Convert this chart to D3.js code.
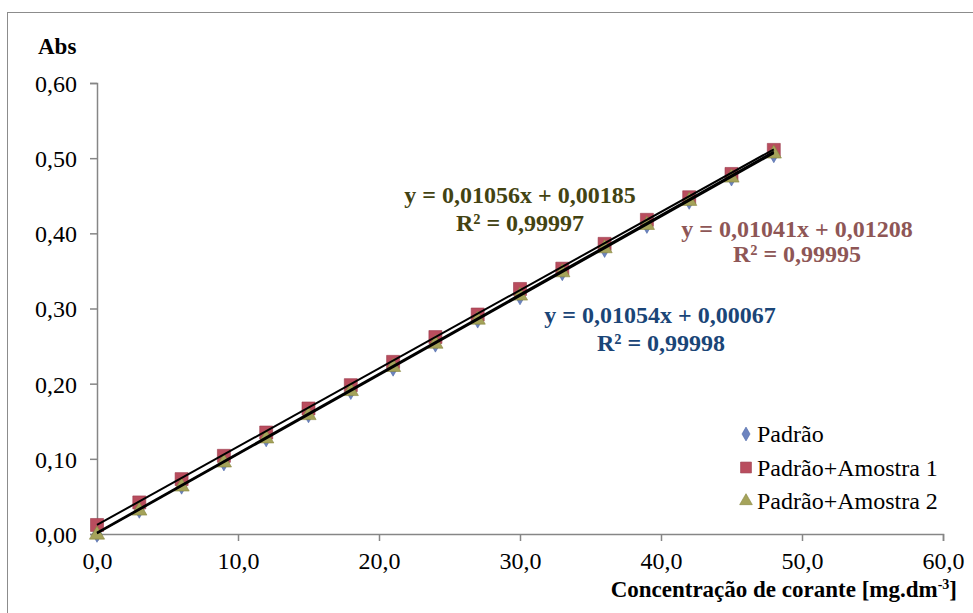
<!DOCTYPE html>
<html>
<head>
<meta charset="utf-8">
<script src="https://cdn.jsdelivr.net/npm/d3@7"></script>
<style>
  body { margin: 0; background: #fff; }
  svg text { font-family: "Liberation Serif", "Times New Roman", serif; }
</style>
</head>
<body>
<svg id="chart" width="973" height="613"></svg>
<script>
// concentration (x) and absorbance readings
var conc = [0, 3, 6, 9, 12, 15, 18, 21, 24, 27, 30, 33, 36, 39, 42, 45, 48];
var padrao = [0.000, 0.032, 0.064, 0.095, 0.127, 0.159, 0.190, 0.221, 0.253, 0.285, 0.316, 0.348, 0.379, 0.411, 0.443, 0.474, 0.505];
var amostra1 = [0.012, 0.042, 0.073, 0.104, 0.135, 0.167, 0.198, 0.229, 0.262, 0.292, 0.326, 0.353, 0.386, 0.418, 0.448, 0.479, 0.511];
var amostra2 = [0.001, 0.033, 0.065, 0.097, 0.129, 0.160, 0.192, 0.224, 0.255, 0.287, 0.319, 0.350, 0.382, 0.413, 0.445, 0.476, 0.508];

var seriesNames = ["Padrão", "Padrão+Amostra 1", "Padrão+Amostra 2"];
// trendline fits as shown on the chart
var slopes = [0.01054, 0.01041, 0.01056];
var intercepts = [0.00067, 0.01208, 0.00185];
var eqLabels = ["y = 0,01054x + 0,00067", "y = 0,01041x + 0,01208", "y = 0,01056x + 0,00185"];
var r2Labels = ["R² = 0,99998", "R² = 0,99995", "R² = 0,99997"];

var xTicks = [0, 10, 20, 30, 40, 50, 60];
var yTicks = [0, 0.1, 0.2, 0.3, 0.4, 0.5, 0.6];

var svg = d3.select("#chart");
var axisColor = "#868686";
var serif = "'Liberation Serif', 'Times New Roman', serif";

// outer frame (only top and left edges fall inside the picture)
svg.append("rect")
    .attr("x", 7.5).attr("y", 12.5)
    .attr("width", 990).attr("height", 620)
    .attr("fill", "none")
    .attr("stroke", "#8c8c8c");

var x = d3.scaleLinear().domain([0, 60]).range([97, 943]);
var y = d3.scaleLinear().domain([0, 0.6]).range([534, 83]);

var fmt = function (v, d) { return v.toFixed(d).replace(".", ","); };

// y axis
var yAxis = svg.append("g")
    .attr("transform", "translate(97,0)")
    .call(d3.axisLeft(y).tickValues(yTicks).tickSize(7).tickPadding(13)
        .tickFormat(function (d) { return fmt(d, 2); }));

// x axis
var xAxis = svg.append("g")
    .attr("transform", "translate(0,534)")
    .call(d3.axisBottom(x).tickValues(xTicks).tickSize(7).tickPadding(11)
        .tickFormat(function (d) { return fmt(d, 1); }));

[xAxis, yAxis].forEach(function (a) {
    a.attr("font-family", null).attr("font-size", null);
    a.select(".domain").attr("stroke", axisColor).attr("stroke-width", 1.5);
    a.selectAll(".tick line").attr("stroke", axisColor).attr("stroke-width", 1.5);
    a.selectAll(".tick text")
        .attr("fill", "#000")
        .style("font-family", serif)
        .style("font-size", "24px");
});
yAxis.selectAll(".tick text").attr("dy", "0.35em");

// axis titles
svg.append("text")
    .attr("x", 38).attr("y", 54)
    .style("font-family", serif)
    .style("font-size", "23px").style("font-weight", "bold")
    .text("Abs");

var xt = svg.append("text")
    .attr("x", 957).attr("y", 597)
    .attr("text-anchor", "end")
    .style("font-family", serif)
    .style("font-size", "23px").style("font-weight", "bold");
xt.append("tspan").text("Concentração de corante [mg.dm");
xt.append("tspan").attr("dy", -8).style("font-size", "14px").text("-3");
xt.append("tspan").attr("dy", 8).text("]");

// markers
var colors = ["#6d84bf", "#b94d5e", "#a5a35a"];
var strokes = ["#4f6aa8", "#9a3a4c", "#86843e"];
var shapes = [d3.symbolDiamond, d3.symbolSquare, d3.symbolTriangle];
var sizes = [80, 169, 100];
var data = [padrao, amostra1, amostra2];

[0, 1, 2].forEach(function (s) {
    svg.append("g").selectAll("path")
        .data(conc)
        .enter()
        .append("path")
        .attr("d", d3.symbol().type(shapes[s]).size(sizes[s]))
        .attr("transform", function (d, i) {
            var dy = s === 2 ? 1.5 : 0;
            return "translate(" + x(d) + "," + (y(data[s][i]) + dy) + ")";
        })
        .attr("fill", colors[s])
        .attr("stroke", strokes[s])
        .attr("stroke-width", 0.6);
});

// trendlines
slopes.forEach(function (m, i) {
    svg.append("line")
        .attr("x1", x(0)).attr("y1", y(intercepts[i]))
        .attr("x2", x(48)).attr("y2", y(m * 48 + intercepts[i]))
        .attr("stroke", "#000")
        .attr("stroke-width", 2);
});

// equation labels
var eqPos = [[660, 323, 661, 351], [797, 237, 797, 262], [520, 203, 520, 231]];
var eqColors = ["#1a4577", "#8e5656", "#434312"];
eqLabels.forEach(function (t, i) {
    svg.append("text")
        .attr("x", eqPos[i][0]).attr("y", eqPos[i][1])
        .attr("text-anchor", "middle")
        .attr("fill", eqColors[i])
        .style("font-family", serif)
        .style("font-size", "24px").style("font-weight", "bold")
        .text(t);
    svg.append("text")
        .attr("x", eqPos[i][2]).attr("y", eqPos[i][3])
        .attr("text-anchor", "middle")
        .attr("fill", eqColors[i])
        .style("font-family", serif)
        .style("font-size", "24px").style("font-weight", "bold")
        .text(r2Labels[i]);
});

// legend
var legend = svg.append("g").attr("transform", "translate(746,434)");
seriesNames.forEach(function (name, i) {
    var g = legend.append("g").attr("transform", "translate(0," + (i * 33.5) + ")");
    g.append("path")
        .attr("d", d3.symbol().type(shapes[i]).size(sizes[i] * 0.7))
        .attr("fill", colors[i])
        .attr("stroke", strokes[i])
        .attr("stroke-width", 0.6);
    g.append("text")
        .attr("x", 11).attr("y", 8)
        .style("font-family", serif)
        .style("font-size", "24px")
        .text(name);
});
</script>
</body>
</html>
